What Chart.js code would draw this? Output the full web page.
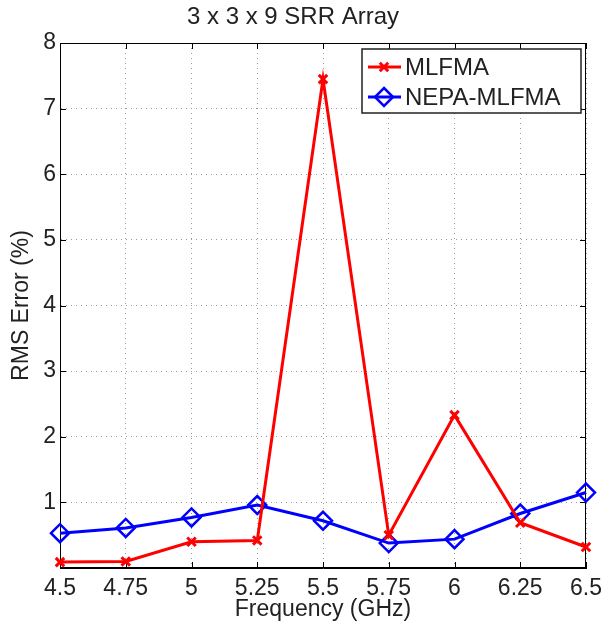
<!DOCTYPE html>
<html>
<head>
<meta charset="utf-8">
<title>3 x 3 x 9 SRR Array</title>
<script src="https://cdn.jsdelivr.net/npm/chart.js@4/dist/chart.umd.min.js"></script>
<style>
    html, body { margin: 0; padding: 0; background: #fff; }
    #wrap { width: 604px; height: 635px; position: relative; }
</style>
</head>
<body>
<div id="wrap"><canvas id="rmsChart"></canvas></div>
<script>
// RMS error vs frequency for the SRR array
const frequencies = [4.5, 4.75, 5, 5.25, 5.5, 5.75, 6, 6.25, 6.5];
const mlfmaError = [0.09, 0.10, 0.40, 0.42, 7.45, 0.50, 2.33, 0.69, 0.32];
const nepaError = [0.53, 0.61, 0.77, 0.96, 0.72, 0.38, 0.44, 0.83, 1.15];
const yTicks = [0, 1, 2, 3, 4, 5, 6, 7, 8];

const FONT = '"Liberation Sans", Arial, Helvetica, sans-serif';

function toPoints(values) {
    return frequencies.map((f, i) => ({ x: f, y: values[i] }));
}

// box around the plot with inward ticks on all four sides
const boxPlugin = {
    id: 'matlabBox',
    beforeDatasetsDraw(chart) {
        const { ctx, chartArea: a, scales } = chart;
        const len = 6;
        ctx.save();
        ctx.strokeStyle = '#000';
        ctx.lineWidth = 1;
        ctx.strokeRect(a.left + 0.5, a.top + 0.5, a.right - a.left - 1, a.bottom - a.top - 1);
        ctx.beginPath();
        frequencies.forEach(f => {
            const x = Math.round(scales.x.getPixelForValue(f)) + 0.5;
            ctx.moveTo(x, a.bottom); ctx.lineTo(x, a.bottom - len);
            ctx.moveTo(x, a.top); ctx.lineTo(x, a.top + len);
        });
        yTicks.forEach(v => {
            const y = Math.round(scales.y.getPixelForValue(v)) + 0.5;
            ctx.moveTo(a.left, y); ctx.lineTo(a.left + len, y);
            ctx.moveTo(a.right, y); ctx.lineTo(a.right - len, y);
        });
        ctx.stroke();
        ctx.restore();
    }
};

// legend box in the upper right corner
const legendBoxPlugin = {
    id: 'legendBox',
    afterDraw(chart) {
        const { ctx } = chart;
        const x0 = 362, y0 = 49, w = 219, h = 64;
        ctx.save();
        ctx.fillStyle = '#fff';
        ctx.fillRect(x0, y0, w, h);
        ctx.strokeStyle = '#222';
        ctx.lineWidth = 1.5;
        ctx.strokeRect(x0, y0, w, h);
        chart.data.datasets.forEach((ds, i) => {
            const cy = y0 + 18 + i * 30;
            const cx = x0 + 22;
            ctx.strokeStyle = ds.borderColor;
            ctx.lineWidth = 3;
            ctx.beginPath();
            ctx.moveTo(x0 + 6, cy); ctx.lineTo(x0 + 39, cy);
            ctx.stroke();
            ctx.lineWidth = ds.pointBorderWidth;
            ctx.beginPath();
            const r = ds.pointRadius;
            if (ds.pointStyle === 'crossRot') {
                ctx.moveTo(cx - r * 0.7, cy - r * 0.7); ctx.lineTo(cx + r * 0.7, cy + r * 0.7);
                ctx.moveTo(cx - r * 0.7, cy + r * 0.7); ctx.lineTo(cx + r * 0.7, cy - r * 0.7);
            } else {
                ctx.moveTo(cx, cy - r); ctx.lineTo(cx + r, cy);
                ctx.lineTo(cx, cy + r); ctx.lineTo(cx - r, cy); ctx.closePath();
            }
            ctx.stroke();
            ctx.fillStyle = '#222';
            ctx.font = '24px ' + FONT;
            ctx.textBaseline = 'middle';
            ctx.fillText(ds.label, x0 + 43, cy + 1);
        });
        ctx.restore();
    }
};

new Chart(document.getElementById('rmsChart'), {
    type: 'line',
    data: {
        datasets: [
            {
                label: 'MLFMA',
                data: toPoints(mlfmaError),
                borderColor: '#ff0000',
                backgroundColor: '#ff0000',
                borderWidth: 3,
                pointStyle: 'crossRot',
                pointRadius: 6,
                pointBorderWidth: 3,
                tension: 0,
                clip: false
            },
            {
                label: 'NEPA-MLFMA',
                data: toPoints(nepaError),
                borderColor: '#0000ff',
                backgroundColor: 'rgba(0,0,0,0)',
                borderWidth: 3,
                pointStyle: 'rectRot',
                pointRadius: 9,
                pointBorderWidth: 2.5,
                tension: 0,
                clip: false
            }
        ]
    },
    options: {
        responsive: true,
        maintainAspectRatio: false,
        animation: false,
        layout: { padding: { left: 0, right: 18, top: 0, bottom: 0 } },
        plugins: {
            legend: { display: false },
            tooltip: { enabled: false },
            title: {
                display: true,
                text: '3 x 3 x 9 SRR Array',
                color: '#222',
                font: { family: FONT, size: 24, weight: 'normal', lineHeight: 1.2 },
                padding: { top: 3, bottom: 11.2 }
            }
        },
        scales: {
            x: {
                type: 'linear',
                min: 4.5,
                max: 6.5,
                afterFit(scale) {
                    scale.height = 67;
                    scale.paddingLeft = 0;
                    scale.paddingRight = 0;
                },
                afterBuildTicks(scale) { scale.ticks = frequencies.map(v => ({ value: v })); },
                ticks: {
                    color: '#222',
                    padding: 7,
                    maxRotation: 0,
                    font: { family: FONT, size: 23 },
                    callback: v => String(v)
                },
                grid: { color: '#999', lineWidth: 1, drawTicks: false },
                border: { display: true, color: '#000', dash: [1, 4] },
                title: {
                    display: true,
                    text: 'Frequency (GHz)',
                    color: '#222',
                    font: { family: FONT, size: 23, lineHeight: 1.2 },
                    padding: { top: 0, bottom: 12 }
                }
            },
            y: {
                min: 0,
                max: 8,
                afterFit(scale) {
                    scale.width = 60;
                    scale.paddingTop = 0;
                    scale.paddingBottom = 0;
                },
                afterBuildTicks(scale) { scale.ticks = yTicks.map(v => ({ value: v })); },
                ticks: {
                    color: '#222',
                    padding: 4,
                    font: { family: FONT, size: 23 },
                    callback: v => (v === 0 ? '' : String(v))
                },
                grid: { color: '#999', lineWidth: 1, drawTicks: false },
                border: { display: true, color: '#000', dash: [1, 4] },
                title: {
                    display: true,
                    text: 'RMS Error (%)',
                    color: '#222',
                    font: { family: FONT, size: 23, lineHeight: 1.2 },
                    padding: { top: 8, bottom: 0 }
                }
            }
        }
    },
    plugins: [boxPlugin, legendBoxPlugin]
});
</script>
</body>
</html>
